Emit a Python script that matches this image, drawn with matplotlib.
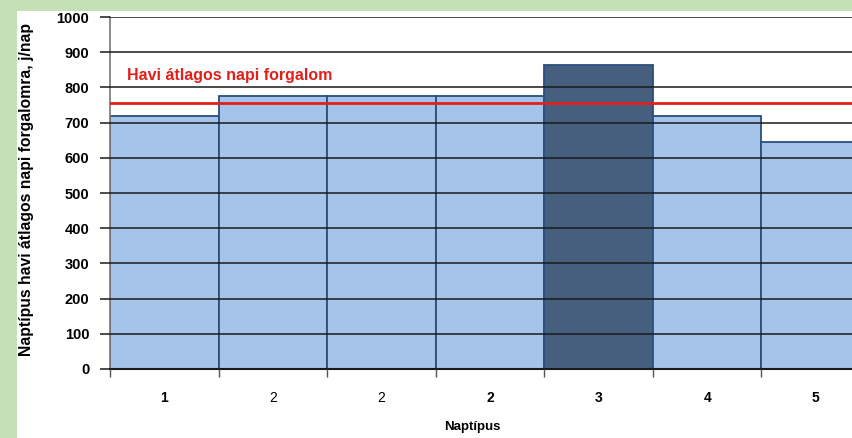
import matplotlib.pyplot as plt
from matplotlib.patches import Rectangle
import numpy as np

plt.rcParams['font.family'] = ['Liberation Sans', 'DejaVu Sans']

# Naptípusok és havi átlagos napi forgalom (j/nap)
naptipus = ['1', '2', '2', '2', '3', '4', '5']
forgalom = [720, 775, 775, 775, 865, 720, 645]
kiemelt = [False, False, False, False, True, False, False]
felkover_cimke = [True, False, False, True, True, True, True]
havi_atlag = 755

fig = plt.figure(figsize=(8.53, 4.38), dpi=100)
fig.patch.set_facecolor('#c5e0b4')
# fehér háttérlap
fig.patches.append(Rectangle((17 / 853, 0), 1, 1 - 11 / 438, transform=fig.transFigure,
                             facecolor='white', edgecolor='none', zorder=-5))

ax = fig.add_axes([110 / 853, 1 - 369 / 438, 760 / 853, 352 / 438])
ax.set_zorder(2)
ax.set_facecolor('white')

x = np.arange(len(naptipus))
szinek = ['#465f7f' if k else '#a6c3e9' for k in kiemelt]
ax.bar(x, forgalom, width=1.0, color=szinek, edgecolor='#2a4e7e', linewidth=1.3, zorder=2)

ax.axhline(havi_atlag, color='#e0201b', linewidth=2, zorder=4)
ax.text(-0.34, 835, 'Havi átlagos napi forgalom', color='#e0201b', fontsize=11.5,
        fontweight='bold', va='center', ha='left', zorder=5)

ax.set_xlim(-0.5, len(naptipus) - 0.5)
ax.set_ylim(0, 1000)
ax.set_yticks(np.arange(0, 1001, 100))
ax.yaxis.grid(True, color='#1a1a1a', linewidth=1.1, zorder=3)
ax.set_axisbelow(False)
for lbl in ax.get_yticklabels():
    lbl.set_fontweight('bold')
ax.tick_params(axis='y', length=7, width=1.1, color='#1a1a1a', labelsize=10.5, pad=8)

# határvonalak a kategóriák között, feliratok középen
ax.set_xticks(x - 0.5)
ax.set_xticklabels([])
ax.tick_params(axis='x', which='major', length=6, width=1, color='#555555', direction='out')
ax.set_xticks(x, minor=True)
ax.set_xticklabels(naptipus, minor=True)
ax.tick_params(axis='x', which='minor', length=0, labelsize=10, pad=16)
for lbl, fb in zip(ax.get_xticklabels(minor=True), felkover_cimke):
    lbl.set_fontweight('bold' if fb else 'normal')

for s in ['top', 'right']:
    ax.spines[s].set_visible(False)
ax.spines['left'].set_color('#777777')
ax.spines['left'].set_linewidth(1.2)
ax.spines['bottom'].set_color('#1a1a1a')
ax.spines['bottom'].set_linewidth(1.5)

fig.text(472 / 853, 1 - 427 / 438, 'Naptípus', ha='center', va='center',
         fontsize=9.5, fontweight='bold')
fig.text(27 / 853, 1 - 190 / 438, 'Naptípus havi átlagos napi forgalomra, j/nap',
         rotation=90, ha='center', va='center', fontsize=11.3, fontweight='bold')

fig.savefig('out.png', dpi=100, facecolor=fig.get_facecolor())
